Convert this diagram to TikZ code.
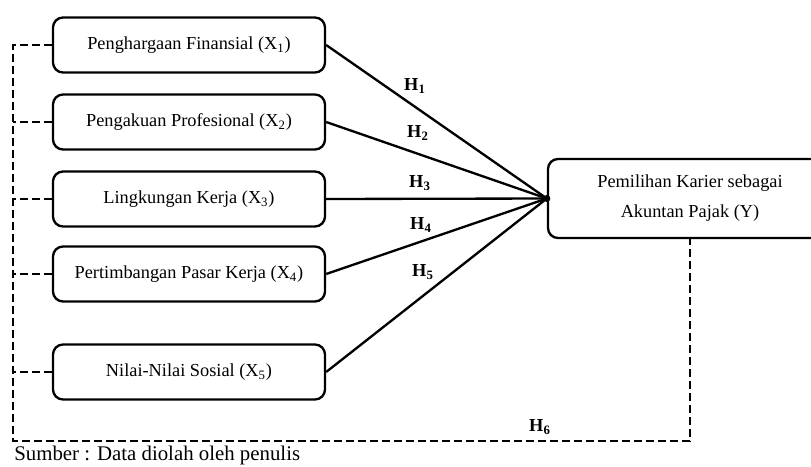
\documentclass[tikz,border=0pt]{standalone}
\usepackage{fontspec}
\setmainfont{Liberation Serif}
\usepackage{tikz}
\usetikzlibrary{positioning,calc}

\begin{document}
\begin{tikzpicture}[
    x=0.6pt, y=-0.6pt,
    every node/.style={font=\fontsize{11}{13}\selectfont},
    varbox/.style={rectangle, draw, rounded corners=6pt, line width=1.4pt, minimum width=163.2pt, minimum height=33pt, align=center},
    path/.style={line width=1.4pt},
    dashline/.style={line width=1.4pt, dash pattern=on 4.8pt off 2.4pt},
    hlabel/.style={font=\fontsize{11}{13}\selectfont\bfseries}
]
    \useasboundingbox (0,0) rectangle (811,466);

    % Independent variables
    \node[varbox] (x1) at (189,45) {Penghargaan Finansial (X\textsubscript{1})};
    \node[varbox] (x2) at (189,122) {Pengakuan Profesional (X\textsubscript{2})};
    \node[varbox] (x3) at (189,199) {Lingkungan Kerja (X\textsubscript{3})};
    \node[varbox] (x4) at (189,274) {Pertimbangan Pasar Kerja (X\textsubscript{4})};
    \node[varbox] (x5) at (189,372) {Nilai-Nilai Sosial (X\textsubscript{5})};

    % Dependent variable
    \node[varbox, minimum width=170.4pt, minimum height=47.4pt] (y) at (690,198.5) {Pemilihan Karier sebagai\\[5pt]Akuntan Pajak (Y)};
    \fill (y.west) circle (3.5);

    % Partial paths
    \draw[path] (x1.east) -- (y.west);
    \draw[path] (x2.east) -- (y.west);
    \draw[path] (x3.east) -- (y.west);
    \draw[path] (x4.east) -- (y.west);
    \draw[path] (x5.east) -- (y.west);

    \node[hlabel] (h1) at (415,86) {H\textsubscript{1}};
    \node[hlabel] (h2) at (418,133) {H\textsubscript{2}};
    \node[hlabel] (h3) at (420,183) {H\textsubscript{3}};
    \node[hlabel] (h4) at (421,225) {H\textsubscript{4}};
    \node[hlabel] (h5) at (423,272) {H\textsubscript{5}};

    % Simultaneous path
    \coordinate (corner) at (13,441);
    \draw[dashline] (x1.west) -| (corner) -| (y.south);
    \draw[dashline] (x2.west) -- (x2.west -| corner);
    \draw[dashline] (x3.west) -- (x3.west -| corner);
    \draw[dashline] (x4.west) -- (x4.west -| corner);
    \draw[dashline] (x5.west) -- (x5.west -| corner);
    \node[hlabel] (h6) at (540,427) {H\textsubscript{6}};

    % Source
    \node[anchor=west, inner sep=0pt, font=\fontsize{12.5}{14}\selectfont] (src) at (14,455) {Sumber : Data diolah oleh penulis};
\end{tikzpicture}
\end{document}
